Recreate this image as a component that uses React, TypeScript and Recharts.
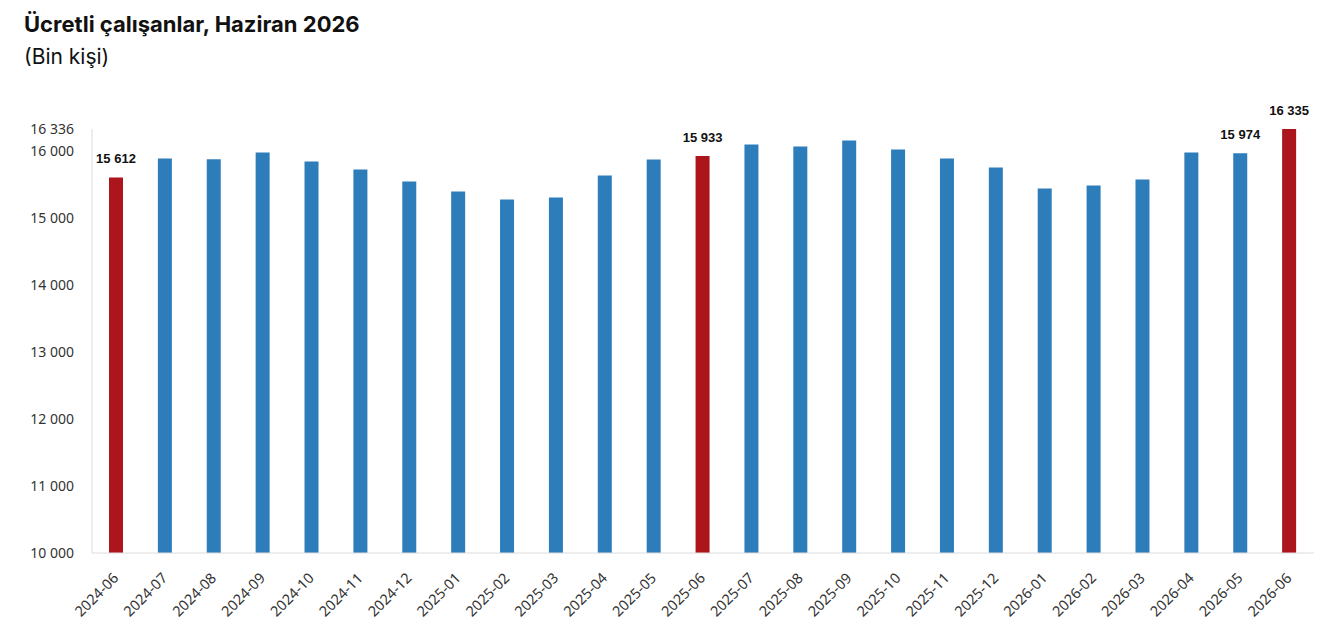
import React from "react";
import { BarChart, Bar, Cell, XAxis, YAxis, LabelList } from "recharts";

const months = [
  "2024-06", "2024-07", "2024-08", "2024-09", "2024-10", "2024-11", "2024-12",
  "2025-01", "2025-02", "2025-03", "2025-04", "2025-05", "2025-06", "2025-07",
  "2025-08", "2025-09", "2025-10", "2025-11", "2025-12", "2026-01", "2026-02",
  "2026-03", "2026-04", "2026-05", "2026-06",
];

const employees = [
  15612, 15896, 15885, 15985, 15851, 15731, 15552,
  15403, 15284, 15313, 15642, 15881, 15933, 16104,
  16075, 16164, 16030, 15896, 15761, 15448, 15493,
  15582, 15985, 15974, 16335,
];

const highlightedMonths = ["2024-06", "2025-06", "2026-06"];
const labeledMonths = ["2024-06", "2025-06", "2026-05", "2026-06"];

const yTicks = [10000, 11000, 12000, 13000, 14000, 15000, 16000, 16336];

const data = months.map((month, i) => ({
  month,
  value: employees[i],
  label: labeledMonths.includes(month) ? employees[i] : null,
}));

// thousands separated by a non-breaking space so the label never wraps
const fmt = (v: number) => String(v).replace(/\B(?=(\d{3})+(?!\d))/g, "\u00a0");

const MonthTick = (props: any) => {
  const { x, y, payload } = props;
  const ax = x + 3;
  const ay = y + 18;
  return (
    <text
      x={ax}
      y={ay}
      transform={`rotate(-45, ${ax}, ${ay})`}
      textAnchor="end"
      fontSize={14.5}
      fill="#333"
      fontFamily="'Noto Sans', sans-serif"
    >
      {payload.value}
    </text>
  );
};

export default function App() {
  return (
    <div style={{ position: "relative", width: 1312, height: 625, fontFamily: "'Noto Sans', sans-serif" }}>
      <div style={{ position: "absolute", left: 16, top: 3, fontSize: 22, fontWeight: 700, color: "#111", fontFamily: "Inter, sans-serif", whiteSpace: "nowrap" }}>
        Ücretli çalışanlar, Haziran 2026
      </div>
      <div style={{ position: "absolute", left: 16, top: 36, fontSize: 21, color: "#111", fontFamily: "Inter, sans-serif", whiteSpace: "nowrap" }}>
        (Bin kişi)
      </div>
      <BarChart
        width={1312}
        height={625}
        data={data}
        margin={{ top: 121, right: 6, left: 24, bottom: 0 }}
        barSize={14}
      >
        <XAxis
          dataKey="month"
          interval={0}
          height={80}
          tickLine={false}
          axisLine={{ stroke: "#dcdcdc" }}
          tick={<MonthTick />}
        />
        <YAxis
          width={60}
          domain={[10000, 16336]}
          ticks={yTicks}
          interval={0}
          allowDataOverflow
          tickLine={false}
          tickMargin={12}
          axisLine={{ stroke: "#dcdcdc" }}
          tickFormatter={fmt}
          tick={{ fill: "#333", fontSize: 14, fontFamily: "'Noto Sans', sans-serif" }}
        />
        <Bar dataKey="value" isAnimationActive={false}>
          {data.map((d) => (
            <Cell key={d.month} fill={highlightedMonths.includes(d.month) ? "#AB151B" : "#2E7DBB"} />
          ))}
          <LabelList
            dataKey="label"
            position="top"
            offset={14}
            formatter={(v: any) => (v == null ? "" : fmt(v))}
            style={{ fill: "#111", fontSize: 13, fontWeight: 700, fontFamily: "'Liberation Sans', Arial, sans-serif" }}
          />
        </Bar>
      </BarChart>
    </div>
  );
}
